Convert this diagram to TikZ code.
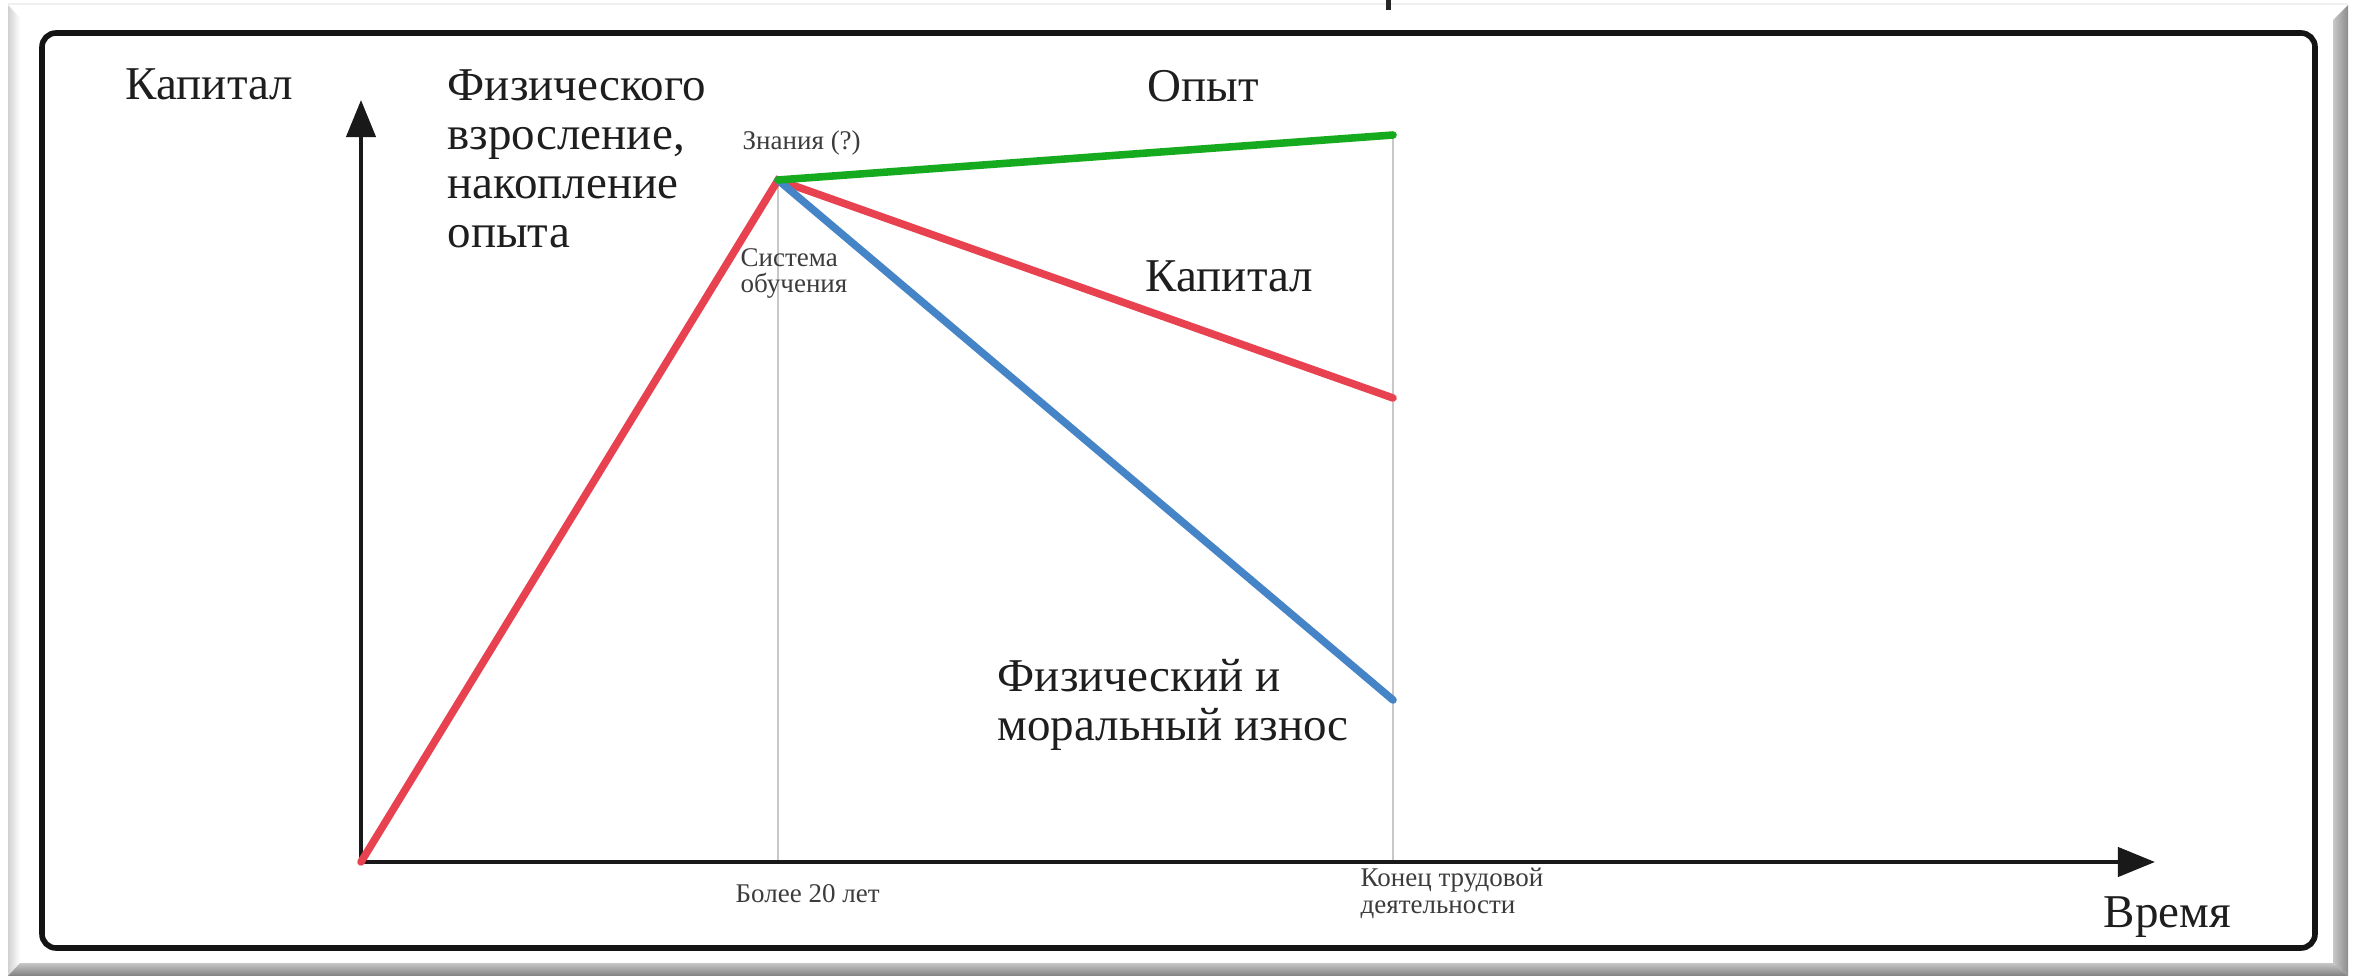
\documentclass[tikz,border=0pt]{standalone}
\usepackage{fontspec}
\setmainfont{Liberation Serif}
\usetikzlibrary{arrows.meta}
\definecolor{cred}{RGB}{232,66,80}
\definecolor{cgreen}{RGB}{22,170,30}
\definecolor{cblue}{RGB}{70,132,200}
\definecolor{cgrid}{RGB}{200,200,200}
\definecolor{ctext}{RGB}{30,30,30}
\definecolor{csmall}{RGB}{60,60,60}
\tikzset{
  bigtext/.style={anchor=base west, inner sep=0pt, text=ctext, align=left,
    font=\fontsize{13.37pt}{13.94pt}\selectfont},
  smalltext/.style={anchor=base west, inner sep=0pt, text=csmall, align=left,
    font=\fontsize{7.68pt}{7.4pt}\selectfont},
  axisline/.style={line width=1.2pt, draw=black!90,
    -{Triangle[length=0.37cm,width=0.29cm]}},
  guide/.style={line width=0.57pt, draw=cgrid},
  curve/.style={line width=2.15pt, line cap=round}
}
\begin{document}
\begin{tikzpicture}[x=0.01cm,y=-0.01cm]
\useasboundingbox (0,0) rectangle (2359,976);
% outer bevel frame
\fill[white] (0,0) rectangle (2359,976);
\draw[line width=0.4pt, draw=black!6] (8,4) -- (2348,4);
\shade[left color=black!18, right color=white] (8,5) -- (20,18) -- (20,963) -- (8,976) -- cycle;
\shade[top color=black!22, bottom color=black!50] (8,976) -- (20,963) -- (2333,963) -- (2348,976) -- cycle;
\shade[left color=black!22, right color=black!45] (2333,20) -- (2348,5) -- (2348,976) -- (2333,963) -- cycle;
% small mark at the top edge
\fill[black!85] (1386,0) rectangle (1391,10);
% inner black frame
\draw[line width=1.6pt, draw=black!92, rounded corners=4] (42,33) rectangle (2315,948);
% coordinates
\coordinate (O) at (361,862);
\coordinate (ytip) at (361,100);
\coordinate (xtip) at (2155,862);
\coordinate (P) at (778,180);
\coordinate (P0) at (778,862);
\coordinate (G) at (1393,135);
\coordinate (R) at (1393,398);
\coordinate (B) at (1393,700);
\coordinate (E0) at (1393,862);
% guides
\draw[guide] (P) -- (P0);
\draw[guide] (G) -- (E0);
% axes
\draw[axisline] (O) -- (ytip);
\draw[axisline] (O) -- (xtip);
% curves
\draw[curve, draw=cred] (O) -- (P) -- (R);
\draw[curve, draw=cblue] (P) -- (B);
\draw[curve, draw=cgreen] (P) -- (G);
% labels (multi-line nodes: base = baseline of last line)
\node[bigtext] (cap1) at (125,100) {Капитал};
\node[bigtext] (grow) at (447,248) {Физического\\взросление,\\накопление\\опыта};
\node[smalltext] (know) at (742,150) {Знания (?)};
\node[smalltext] (sys) at (740,293) {Система\\обучения};
\node[bigtext] (exp) at (1147,102) {Опыт};
\node[bigtext] (cap2) at (1145,292) {Капитал};
\node[bigtext, font=\fontsize{13.37pt}{13.66pt}\selectfont] (wear) at (997,740) {Физический и\\моральный износ};
\node[smalltext] (y20) at (735,902) {Более 20 лет};
\node[smalltext] (endw) at (1360,913) {Конец трудовой\\деятельности};
\node[bigtext] (time) at (2103,927) {Время};
\end{tikzpicture}
\end{document}
